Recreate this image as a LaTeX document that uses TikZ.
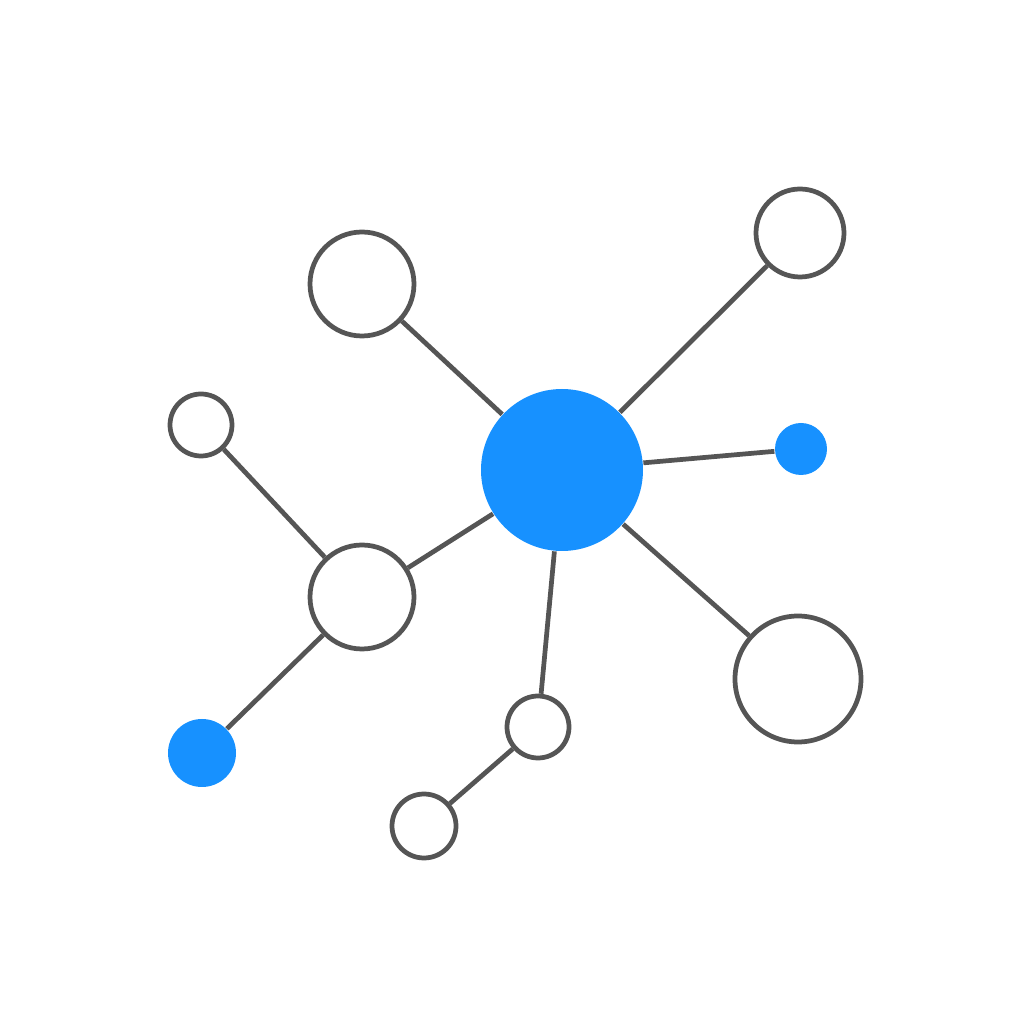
\documentclass[tikz,border=0pt]{standalone}
\usepackage{tikz}
\usetikzlibrary{positioning}
\definecolor{hubblue}{HTML}{1791FF}
\definecolor{edgegray}{HTML}{555555}
\tikzstyle{ring} = [circle, draw=edgegray, line width=1.35pt, fill=white, inner sep=0pt]
\tikzstyle{dot} = [circle, fill=hubblue, inner sep=0pt]
\tikzstyle{link} = [draw=edgegray, line width=1.35pt]

\begin{document}
\begin{tikzpicture}
        \useasboundingbox (0, 0) rectangle (10.24, 10.24);

        \node[dot, minimum size=1.62cm] at (5.62, 5.54) (Hub) {};
        \node[ring, minimum size=1.04cm] at (3.62, 7.40) (TopLeft) {};
        \node[ring, minimum size=0.88cm] at (8.00, 7.91) (TopRight) {};
        \node[ring, minimum size=0.62cm] at (2.01, 5.99) (LeftSmall) {};
        \node[dot, minimum size=0.52cm] at (8.01, 5.75) (RightDot) {};
        \node[ring, minimum size=1.04cm] at (3.62, 4.27) (MidLeft) {};
        \node[dot, minimum size=0.68cm] at (2.02, 2.71) (LeftDot) {};
        \node[ring, minimum size=0.62cm] at (5.38, 2.97) (BottomMid) {};
        \node[ring, minimum size=0.64cm] at (4.24, 1.98) (BottomLow) {};
        \node[ring, minimum size=1.26cm] at (7.98, 3.45) (BottomRight) {};

        \draw[link] (Hub) -- (TopLeft);
        \draw[link] (Hub) -- (TopRight);
        \draw[link] (Hub) -- (RightDot);
        \draw[link] (Hub) -- (BottomRight);
        \draw[link] (Hub) -- (BottomMid);
        \draw[link] (Hub) -- (MidLeft);
        \draw[link] (MidLeft) -- (LeftSmall);
        \draw[link] (MidLeft) -- (LeftDot);
        \draw[link] (BottomMid) -- (BottomLow);

    \end{tikzpicture}
\end{document}
